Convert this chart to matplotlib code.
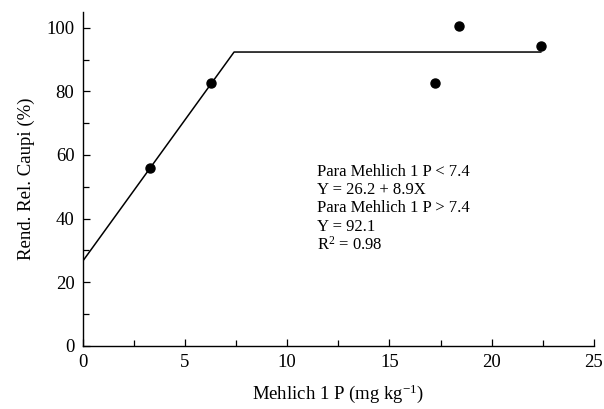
import matplotlib
matplotlib.use("Agg")
import matplotlib.pyplot as plt
from matplotlib.ticker import MultipleLocator

plt.rcParams['font.family'] = ['Liberation Serif', 'DejaVu Serif']
plt.rcParams['mathtext.fontset'] = 'custom'
plt.rcParams['mathtext.rm'] = 'Liberation Serif'
plt.rcParams['mathtext.it'] = 'Liberation Serif:italic'

# Observed points
obs_x = [3.29, 6.26, 17.23, 18.42, 22.41]
obs_y = [56.0, 82.5, 82.8, 100.6, 94.2]

# Fitted linear-plateau model vertices
fit_x = [0.0, 7.4, 22.4]
fit_y = [26.6, 92.4, 92.4]

eq_lines = ["Para Mehlich 1 P < 7.4",
            "Y = 26.2 + 8.9X",
            "Para Mehlich 1 P > 7.4",
            "Y = 92.1",
            "R$^{2}$ = 0.98"]

fig = plt.figure(figsize=(6.04, 4.09), dpi=100)
ax = fig.add_axes([0.137, 0.1548, 0.9834 - 0.137, 0.9707 - 0.1548])

ax.plot(fit_x, fit_y, color='black', lw=1.1)
ax.plot(obs_x, obs_y, 'o', color='black', markersize=6.5)

ax.set_xlim(0, 25)
ax.set_ylim(0, 105)
ax.xaxis.set_major_locator(MultipleLocator(5))
ax.xaxis.set_minor_locator(MultipleLocator(2.5))
ax.yaxis.set_major_locator(MultipleLocator(20))
ax.yaxis.set_minor_locator(MultipleLocator(10))
ax.tick_params(which='both', direction='in', labelsize=13.5, width=0.9)
ax.tick_params(which='major', length=5, pad=6)
ax.tick_params(which='minor', length=4)
for s in ['top', 'right']:
    ax.spines[s].set_visible(False)
for s in ['left', 'bottom']:
    ax.spines[s].set_linewidth(1.0)

ax.set_xlabel("Mehlich 1 P (mg kg$^{-1}$)", fontsize=13.5, labelpad=8)
ax.set_ylabel("Rend. Rel. Caupi (%)", fontsize=13.5, labelpad=8)

y0 = 54.7
dy = 18.3 / 3.18
for i, line in enumerate(eq_lines):
    ax.text(11.44, y0 - i * dy, line, fontsize=12, va='center', ha='left')

fig.savefig("out.png", dpi=100)
